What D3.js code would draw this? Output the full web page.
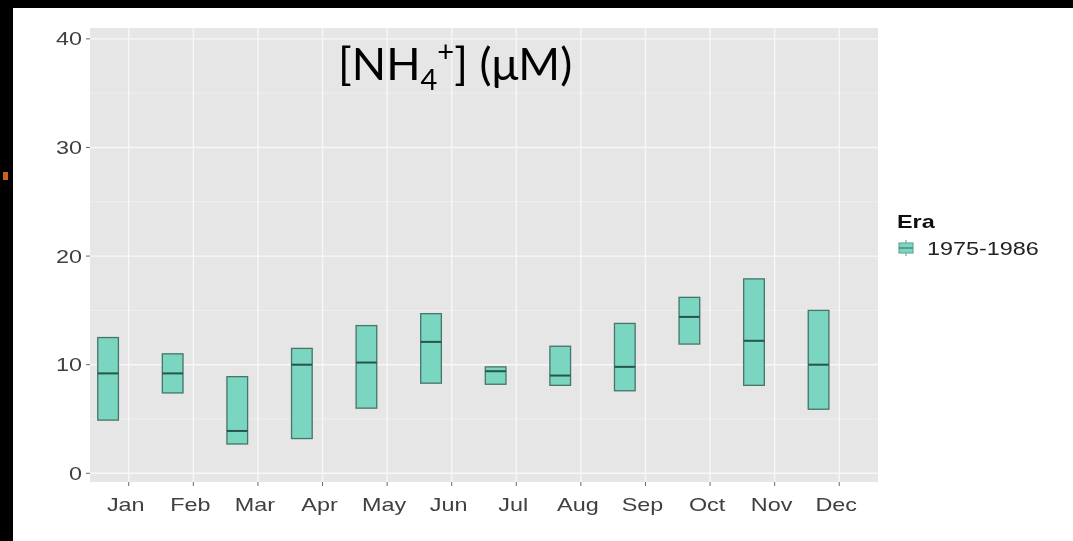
<!DOCTYPE html>
<html>
<head>
<meta charset="utf-8">
<script src="https://cdn.jsdelivr.net/npm/d3@7"></script>
<style>
  html, body { margin: 0; padding: 0; background: #ffffff; }
  svg { display: block; }
</style>
</head>
<body>
<svg id="chart" width="1073" height="541"></svg>
<script>
// Monthly ammonium ranges, 1975-1986 era
const months = ["Jan", "Feb", "Mar", "Apr", "May", "Jun", "Jul", "Aug", "Sep", "Oct", "Nov", "Dec"];
const lowerValues  = [4.9, 7.4, 2.7, 3.2, 6.0, 8.3, 8.2, 8.1, 7.6, 11.9, 8.1, 5.9];
const medianValues = [9.2, 9.2, 3.9, 10.0, 10.2, 12.1, 9.4, 9.0, 9.8, 14.4, 12.2, 10.0];
const upperValues  = [12.5, 11.0, 8.9, 11.5, 13.6, 14.7, 9.8, 11.7, 13.8, 16.2, 17.9, 15.0];
const yTicks = [0, 10, 20, 30, 40];
const yMinorTicks = [5, 15, 25, 35];
const eraLabel = "1975-1986";

const svg = d3.select("#chart");
const W = 1073, H = 541;

// photo frame edges
svg.append("rect").attr("x", 0).attr("y", 0).attr("width", W).attr("height", H).attr("fill", "#ffffff");
svg.append("rect").attr("x", 0).attr("y", 0).attr("width", W).attr("height", 8).attr("fill", "#000");
svg.append("rect").attr("x", 0).attr("y", 0).attr("width", 13).attr("height", H).attr("fill", "#000");
svg.append("rect").attr("x", 3).attr("y", 172).attr("width", 5).attr("height", 8).attr("fill", "#c8641e");

const panel = { left: 90, right: 878, top: 28, bottom: 482 };

const x = d3.scalePoint().domain(months).range([panel.left, panel.right]).padding(0.6);
const y = d3.scaleLinear().domain([-0.8, 41]).range([panel.bottom, panel.top]);
const step = x.step();
const boxW = step * 0.32;
const boxOffset = -step * 0.32;

svg.append("defs").append("filter").attr("id", "soft")
  .append("feGaussianBlur").attr("stdDeviation", 0.5);

// panel background
svg.append("rect")
  .attr("x", panel.left).attr("y", panel.top)
  .attr("width", panel.right - panel.left).attr("height", panel.bottom - panel.top)
  .attr("fill", "#e6e6e6");

const grid = svg.append("g");
grid.selectAll("line.minor").data(yMinorTicks).join("line")
  .attr("x1", panel.left).attr("x2", panel.right)
  .attr("y1", d => y(d)).attr("y2", d => y(d))
  .attr("stroke", "#f2f2f2").attr("stroke-width", 0.7);
grid.selectAll("line.majorY").data(yTicks).join("line")
  .attr("x1", panel.left).attr("x2", panel.right)
  .attr("y1", d => y(d)).attr("y2", d => y(d))
  .attr("stroke", "#f7f7f7").attr("stroke-width", 1.4);
grid.selectAll("line.majorX").data(months).join("line")
  .attr("x1", d => x(d)).attr("x2", d => x(d))
  .attr("y1", panel.top).attr("y2", panel.bottom)
  .attr("stroke", "#f7f7f7").attr("stroke-width", 1.4);

// boxes
const rows = months.map((m, i) => ({ m, lo: lowerValues[i], med: medianValues[i], hi: upperValues[i] }));
const boxes = svg.append("g").attr("filter", "url(#soft)");
boxes.selectAll("rect").data(rows).join("rect")
  .attr("x", d => x(d.m) + boxOffset - boxW / 2)
  .attr("y", d => y(d.hi))
  .attr("width", boxW)
  .attr("height", d => y(d.lo) - y(d.hi))
  .attr("fill", "#7ad5c1")
  .attr("stroke", "#467468").attr("stroke-width", 1.3);
boxes.selectAll("line").data(rows).join("line")
  .attr("x1", d => x(d.m) + boxOffset - boxW / 2)
  .attr("x2", d => x(d.m) + boxOffset + boxW / 2)
  .attr("y1", d => y(d.med)).attr("y2", d => y(d.med))
  .attr("stroke", "#26554b").attr("stroke-width", 2);

// axes
const stretch = 1.3;
const tickColor = "#404040";
const axes = svg.append("g").attr("filter", "url(#soft)");
axes.selectAll("line.yt").data(yTicks).join("line")
  .attr("x1", panel.left - 4).attr("x2", panel.left)
  .attr("y1", d => y(d)).attr("y2", d => y(d))
  .attr("stroke", "#666").attr("stroke-width", 1);
axes.selectAll("text.yl").data(yTicks).join("text")
  .attr("transform", d => `translate(${panel.left - 8},${y(d) + 6.5}) scale(${stretch},1)`)
  .attr("text-anchor", "end")
  .attr("font-family", "Liberation Sans, Arial, sans-serif")
  .attr("font-size", 18)
  .attr("fill", tickColor)
  .text(d => d);
axes.selectAll("line.xt").data(months).join("line")
  .attr("x1", d => x(d)).attr("x2", d => x(d))
  .attr("y1", panel.bottom).attr("y2", panel.bottom + 4)
  .attr("stroke", "#666").attr("stroke-width", 1);
axes.selectAll("text.xl").data(months).join("text")
  .attr("transform", d => `translate(${x(d) - 3},${panel.bottom + 29}) scale(${stretch},1)`)
  .attr("text-anchor", "middle")
  .attr("font-family", "Liberation Sans, Arial, sans-serif")
  .attr("font-size", 18)
  .attr("fill", tickColor)
  .text(d => d);

// legend
const legend = svg.append("g").attr("filter", "url(#soft)");
legend.append("text")
  .attr("transform", `translate(897,228) scale(${stretch},1)`)
  .attr("font-family", "Liberation Sans, Arial, sans-serif")
  .attr("font-size", 18).attr("font-weight", "bold")
  .attr("fill", "#111").text("Era");
const kx = 899, ky = 240, kw = 14, kh = 16;
legend.append("line").attr("x1", kx + kw / 2).attr("x2", kx + kw / 2)
  .attr("y1", ky).attr("y2", ky + kh).attr("stroke", "#6aa898").attr("stroke-width", 1.2);
legend.append("rect").attr("x", kx).attr("y", ky + 3).attr("width", kw).attr("height", kh - 6)
  .attr("fill", "#7ad5c1").attr("stroke", "#6aa898").attr("stroke-width", 1.2);
legend.append("line").attr("x1", kx).attr("x2", kx + kw)
  .attr("y1", ky + kh / 2).attr("y2", ky + kh / 2).attr("stroke", "#4f8a7c").attr("stroke-width", 1.5);
legend.append("text")
  .attr("transform", `translate(927,255) scale(${stretch},1)`)
  .attr("font-family", "Liberation Sans, Arial, sans-serif")
  .attr("font-size", 18)
  .attr("fill", "#222").text(eraLabel);

// title
const title = svg.append("text")
  .attr("x", 338).attr("y", 80)
  .attr("font-family", "Lato, 'Open Sans', sans-serif")
  .attr("font-size", 45)
  .attr("fill", "#000");
title.append("tspan").text("[NH");
title.append("tspan").attr("font-size", 29).attr("dy", 10).text("4");
title.append("tspan").attr("font-size", 29).attr("dy", -28).text("+");
title.append("tspan").attr("dy", 18).text("] (μM)");
</script>
</body>
</html>
